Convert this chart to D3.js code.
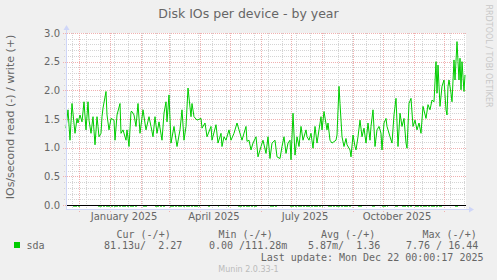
<!DOCTYPE html>
<html>
<head>
<meta charset="utf-8">
<script src="https://cdn.jsdelivr.net/npm/d3@7"></script>
<style>
body { margin: 0; background: #f0f0f0; }
svg { display: block; font-family: "DejaVu Sans", sans-serif; }
.mono { font-family: "DejaVu Sans Mono", monospace; white-space: pre; }
</style>
</head>
<body>
<svg id="chart" width="497" height="280"></svg>
<script>
// Disk IOs per device - by year (munin / rrdtool style)

const startDate = new Date(Date.UTC(2024, 10, 18));
const endDate = new Date(Date.UTC(2025, 11, 23));

// write IOs/s (+), day offsets from startDate
const writeDays = [0, 2, 4, 6, 9, 11, 12, 14, 16, 18, 20, 22, 23, 25, 27, 29, 31, 32, 33, 35, 36, 37, 40, 41, 43, 45, 48, 49, 51, 54,
    55, 57, 60, 61, 63, 65, 66, 68, 70, 72, 74, 77, 80, 83, 85, 87, 89, 91, 93, 96, 98, 100, 101, 103, 105, 108, 111, 114, 116, 118,
    120, 122, 125, 126, 128, 131, 135, 136, 139, 141, 145, 146, 150, 152, 155, 156, 158, 160, 163, 165, 168, 171, 173, 175, 176, 180, 181, 183, 185, 187,
    190, 192, 195, 197, 200, 202, 204, 206, 209, 211, 214, 216, 218, 220, 222, 224, 225, 227, 229, 231, 233, 235, 237, 240, 241, 243, 245, 247, 249, 251,
    253, 255, 256, 258, 261, 262, 264, 266, 270, 271, 273, 274, 276, 278, 280, 281, 284, 285, 287, 289, 290, 292, 294, 296, 298, 300, 302, 304, 305, 307,
    309, 311, 313, 315, 316, 318, 320, 321, 324, 326, 328, 330, 332, 334, 336, 338, 340, 341, 343, 345, 347, 349, 351, 353, 355, 357, 360, 362, 364, 366,
    368, 370, 371, 372, 374, 376, 378, 380, 381, 382, 383, 385, 386, 388, 389, 391, 392, 393, 394, 395, 396, 398, 399];
const writeRate = [1.34, 1.66, 1.13, 1.77, 1.25, 1.51, 1.43, 1.57, 1.45, 1.80, 1.31, 1.80, 1.48, 1.25, 1.54, 1.05, 1.54, 1.37, 1.19, 1.25, 1.54, 1.69, 1.98, 1.57, 1.31, 1.51, 1.48, 1.13, 1.57, 1.77,
    1.25, 1.31, 1.13, 1.31, 1.02, 1.63, 1.63, 1.57, 1.37, 1.77, 1.25, 1.66, 1.31, 1.54, 1.37, 1.19, 1.54, 1.25, 1.45, 1.13, 1.60, 1.80, 1.45, 1.92, 1.08, 1.37, 1.02, 1.31, 1.66, 1.13,
    1.37, 2.04, 1.54, 1.77, 1.54, 1.48, 1.51, 1.34, 1.43, 1.19, 1.37, 1.13, 1.40, 1.08, 1.25, 1.02, 1.19, 1.13, 1.31, 1.13, 1.25, 1.43, 1.31, 1.19, 1.13, 1.37, 1.11, 1.13, 0.96, 1.08,
    1.19, 0.84, 1.02, 1.13, 0.90, 1.19, 0.81, 1.08, 1.13, 0.84, 0.81, 1.02, 1.19, 0.90, 1.08, 1.13, 0.79, 1.60, 0.87, 1.19, 1.02, 1.37, 1.13, 1.31, 1.19, 1.13, 1.25, 0.99, 1.37, 1.08,
    1.31, 1.54, 1.31, 1.63, 1.31, 1.43, 1.13, 1.08, 1.13, 1.22, 2.07, 1.77, 1.19, 1.02, 1.16, 1.05, 0.96, 0.84, 1.22, 1.02, 0.96, 1.19, 1.48, 1.19, 1.34, 1.08, 1.43, 1.13, 1.37, 1.66,
    1.02, 1.31, 1.37, 1.25, 0.96, 1.43, 1.51, 1.37, 1.19, 1.08, 1.57, 1.86, 1.02, 1.60, 1.37, 1.51, 1.08, 0.99, 1.77, 1.86, 1.37, 1.48, 1.31, 1.43, 1.25, 1.72, 1.51, 1.75, 1.66, 1.83,
    1.80, 2.50, 1.95, 2.44, 1.72, 2.07, 2.18, 1.66, 1.57, 2.07, 2.18, 1.95, 1.80, 2.53, 2.18, 2.85, 2.50, 2.18, 2.56, 2.01, 2.50, 1.98, 2.27];

// read IOs/s (-): tiny negative values, only visible just under the zero line
const readRuns = [[7, 14], [32, 72], [77, 82], [89, 99], [104, 134], [142, 144], [152, 153], [162, 163], [172, 191], [204, 211],
    [224, 257], [262, 286], [292, 296], [306, 309], [316, 322], [329, 332], [336, 346], [349, 376], [389, 392]];
const readLevel = -0.02;

const yTicks = [0.0, 0.5, 1.0, 1.5, 2.0, 2.5, 3.0];
const yMinorStep = 0.1;
const labelMonths = [new Date(Date.UTC(2025, 0, 1)), new Date(Date.UTC(2025, 3, 1)), new Date(Date.UTC(2025, 6, 1)), new Date(Date.UTC(2025, 9, 1))];

const legendHeaders = ["Cur (-/+)", "Min (-/+)", "Avg (-/+)", "Max (-/+)"];
const legendValues = ["81.13u/  2.27", "0.00 /111.28m", "5.87m/  1.36", "7.76 / 16.44"];
const lastUpdate = "Last update: Mon Dec 22 00:00:17 2025";

const FONT = "#666666";
const AXIS = "#CFD6F8";
const GRID = "#d4d4d4";
const MGRID = "#f0b0b0";
const GREEN = "#00cc00";

const plotLeft = 66, plotRight = 466, plotTop = 33, plotBottom = 209;

const svg = d3.select("#chart");

svg.append("rect").attr("width", 497).attr("height", 280).attr("fill", "#f0f0f0");
svg.append("rect").attr("x", plotLeft).attr("y", plotTop).attr("width", plotRight - plotLeft).attr("height", plotBottom - plotTop).attr("fill", "#fff");

const x = d3.scaleUtc().domain([startDate, endDate]).range([plotLeft, plotRight]);
const y = d3.scaleLinear().domain([-0.07, 3.0]).range([plotBottom, plotTop]);
const dayToDate = d => new Date(startDate.getTime() + d * 86400000);

// minor grid (every 0.1 / every 2 weeks)
const minorY = d3.range(0, 3.0001, yMinorStep).filter(v => Math.abs(v * 2 - Math.round(v * 2)) > 1e-6);
svg.append("g").selectAll("line").data(minorY).enter().append("line")
    .attr("x1", plotLeft - 2).attr("x2", plotRight)
    .attr("y1", d => Math.round(y(d)) + 0.5).attr("y2", d => Math.round(y(d)) + 0.5)
    .attr("stroke", GRID).attr("stroke-dasharray", "1,1");

const minorX = d3.utcSunday.range(startDate, endDate, 2);
svg.append("g").selectAll("line").data(minorX).enter().append("line")
    .attr("x1", d => Math.round(x(d)) + 0.5).attr("x2", d => Math.round(x(d)) + 0.5)
    .attr("y1", plotTop).attr("y2", plotBottom + 2)
    .attr("stroke", GRID).attr("stroke-dasharray", "1,1");

// major grid
svg.append("g").selectAll("line").data(yTicks).enter().append("line")
    .attr("x1", plotLeft - 3).attr("x2", plotRight)
    .attr("y1", d => Math.round(y(d)) + 0.5).attr("y2", d => Math.round(y(d)) + 0.5)
    .attr("stroke", MGRID).attr("stroke-dasharray", "1,1");

const majorX = d3.utcMonth.range(startDate, endDate);
svg.append("g").selectAll("line").data(majorX).enter().append("line")
    .attr("x1", d => Math.round(x(d)) + 0.5).attr("x2", d => Math.round(x(d)) + 0.5)
    .attr("y1", plotTop).attr("y2", plotBottom + 3)
    .attr("stroke", MGRID).attr("stroke-dasharray", "1,1");

// read series (negative side)
const line = d3.line().x(d => x(dayToDate(d[0]))).y(d => y(d[1]));
svg.append("g").selectAll("path").data(readRuns).enter().append("path")
    .attr("d", r => line([[r[0], readLevel], [r[1], readLevel]]))
    .attr("fill", "none").attr("stroke", GREEN).attr("stroke-width", 1)
    .attr("stroke-dasharray", "4,1,2,1");

// write series
const writeData = writeDays.map((d, i) => [d, writeRate[i]]);
svg.append("path")
    .attr("d", line(writeData))
    .attr("fill", "none").attr("stroke", GREEN).attr("stroke-width", 1);

// zero rule
svg.append("line")
    .attr("x1", plotLeft).attr("x2", plotRight)
    .attr("y1", Math.round(y(0)) + 0.5).attr("y2", Math.round(y(0)) + 0.5)
    .attr("stroke", "#000").attr("stroke-width", 1);

// axes with arrows
svg.append("line").attr("x1", plotLeft + 0.5).attr("x2", plotLeft + 0.5).attr("y1", plotBottom + 1).attr("y2", plotTop - 4)
    .attr("stroke", AXIS);
svg.append("path").attr("d", `M${plotLeft - 2.5},${plotTop - 3}L${plotLeft + 3.5},${plotTop - 3}L${plotLeft + 0.5},${plotTop - 8}Z`).attr("fill", AXIS);
svg.append("line").attr("x1", plotLeft).attr("x2", plotRight + 4).attr("y1", plotBottom + 0.5).attr("y2", plotBottom + 0.5)
    .attr("stroke", AXIS);
svg.append("path").attr("d", `M${plotRight + 3},${plotBottom - 2.5}L${plotRight + 3},${plotBottom + 3.5}L${plotRight + 8},${plotBottom + 0.5}Z`).attr("fill", AXIS);

// y tick labels
svg.append("g").selectAll("text").data(yTicks).enter().append("text")
    .attr("x", plotLeft - 6).attr("y", d => y(d) + 3.6)
    .attr("text-anchor", "end").attr("font-size", "10px").attr("fill", FONT)
    .text(d => d.toFixed(1));

// x labels (centered roughly half a month after the month start, rrdtool style)
svg.append("g").selectAll("text").data(labelMonths).enter().append("text")
    .attr("x", d => x(d3.utcDay.offset(d, 14)))
    .attr("y", 220)
    .attr("text-anchor", "middle").attr("font-size", "10px").attr("fill", FONT)
    .text(d => d3.utcFormat("%B %Y")(d));

// title
svg.append("text").attr("x", 248.5).attr("y", 18).attr("text-anchor", "middle")
    .attr("font-size", "12.5px").attr("fill", FONT).text("Disk IOs per device - by year");

// vertical unit label
svg.append("text").attr("transform", `translate(14,${(plotTop + plotBottom) / 2 - 4}) rotate(-90)`)
    .attr("text-anchor", "middle").attr("font-size", "11px").attr("fill", FONT)
    .text("IOs/second read (-) / write (+)");

// watermark
svg.append("text").attr("transform", "translate(486,56) rotate(90)")
    .attr("text-anchor", "middle").attr("font-size", "8px").attr("fill", "#c8c8c8")
    .text("RRDTOOL / TOBI OETIKER");

// legend
const colX = [116.5, 218.5, 321, 422.5];
const valX = [104, 209, 308, 406];
svg.append("g").selectAll("text").data(legendHeaders).enter().append("text")
    .attr("class", "mono").attr("x", (d, i) => colX[i]).attr("y", 237.5)
    .attr("font-size", "10px").attr("fill", FONT).text(d => d);

svg.append("rect").attr("x", 14).attr("y", 242).attr("width", 6).attr("height", 6).attr("fill", GREEN);
svg.append("text").attr("class", "mono").attr("x", 26.5).attr("y", 249.3)
    .attr("font-size", "10px").attr("fill", FONT).text("sda");
svg.append("g").selectAll("text").data(legendValues).enter().append("text")
    .attr("class", "mono").attr("x", (d, i) => valX[i]).attr("y", 249.3)
    .attr("font-size", "10px").attr("fill", FONT).text(d => d);

svg.append("text").attr("class", "mono").attr("x", 483.5).attr("y", 261)
    .attr("text-anchor", "end").attr("font-size", "10px").attr("fill", FONT).text(lastUpdate);

svg.append("text").attr("x", 248.5).attr("y", 272).attr("text-anchor", "middle")
    .attr("font-size", "8px").attr("fill", "#bbbbbb").text("Munin 2.0.33-1");
</script>
</body>
</html>
